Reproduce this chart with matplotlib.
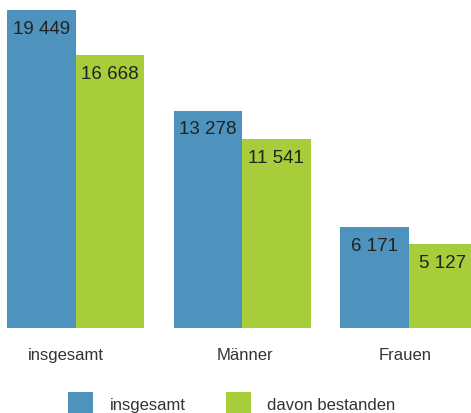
import numpy as np
from matplotlib import pyplot as plt

categories = ["insgesamt", "Männer", "Frauen"]
insgesamt = [19449, 13278, 6171]
bestanden = [16668, 11541, 5127]
series_names = ["insgesamt", "davon bestanden"]

blue = "#4e92be"
green = "#a7cd3a"
text_color = "#333333"

def fmt(v):
    return f"{v:,}".replace(",", " ")

plt.rcParams["font.family"] = ["Liberation Sans", "DejaVu Sans"]

W, H = 471, 414
fig = plt.figure(figsize=(W / 100, H / 100), dpi=100)
# axes spans whole width, baseline 85 px above bottom
ax = fig.add_axes([0, 85 / H, 1, 329 / H])

group = 166.5
bw = 68.5 / group
x = np.arange(len(categories))
ax.set_xlim(-75.5 / group, (W - 75.5) / group)
ax.set_ylim(0, insgesamt[0] * 329 / 318)

b1 = ax.bar(x - bw / 2, insgesamt, bw, color=blue, label=series_names[0])
b2 = ax.bar(x + bw / 2, bestanden, bw, color=green, label=series_names[1])

for bars, vals in ((b1, insgesamt), (b2, bestanden)):
    for rect, v in zip(bars, vals):
        ax.annotate(fmt(v), (rect.get_x() + rect.get_width() / 2, v),
                    xytext=(0, -18), textcoords="offset pixels",
                    ha="center", va="center", fontsize=13.5, color="#222222")

# category labels sit a bit off-centre in the original
label_shift = np.array([-10, 3, -3.5]) / group
ax.set_xticks(x + label_shift, categories)
ax.tick_params(axis="x", length=0, pad=14, labelsize=12, labelcolor=text_color)
ax.set_yticks([])
for s in ax.spines.values():
    s.set_visible(False)

fig.legend(handles=[b1, b2], loc="center left",
           bbox_to_anchor=(68 / W, 9 / H), ncol=2, frameon=False,
           fontsize=12, labelcolor=text_color, handlelength=1.5,
           handleheight=1.9, handletextpad=1.0, columnspacing=2.4,
           borderpad=0, borderaxespad=0)

fig.savefig("out.png", dpi=100)
